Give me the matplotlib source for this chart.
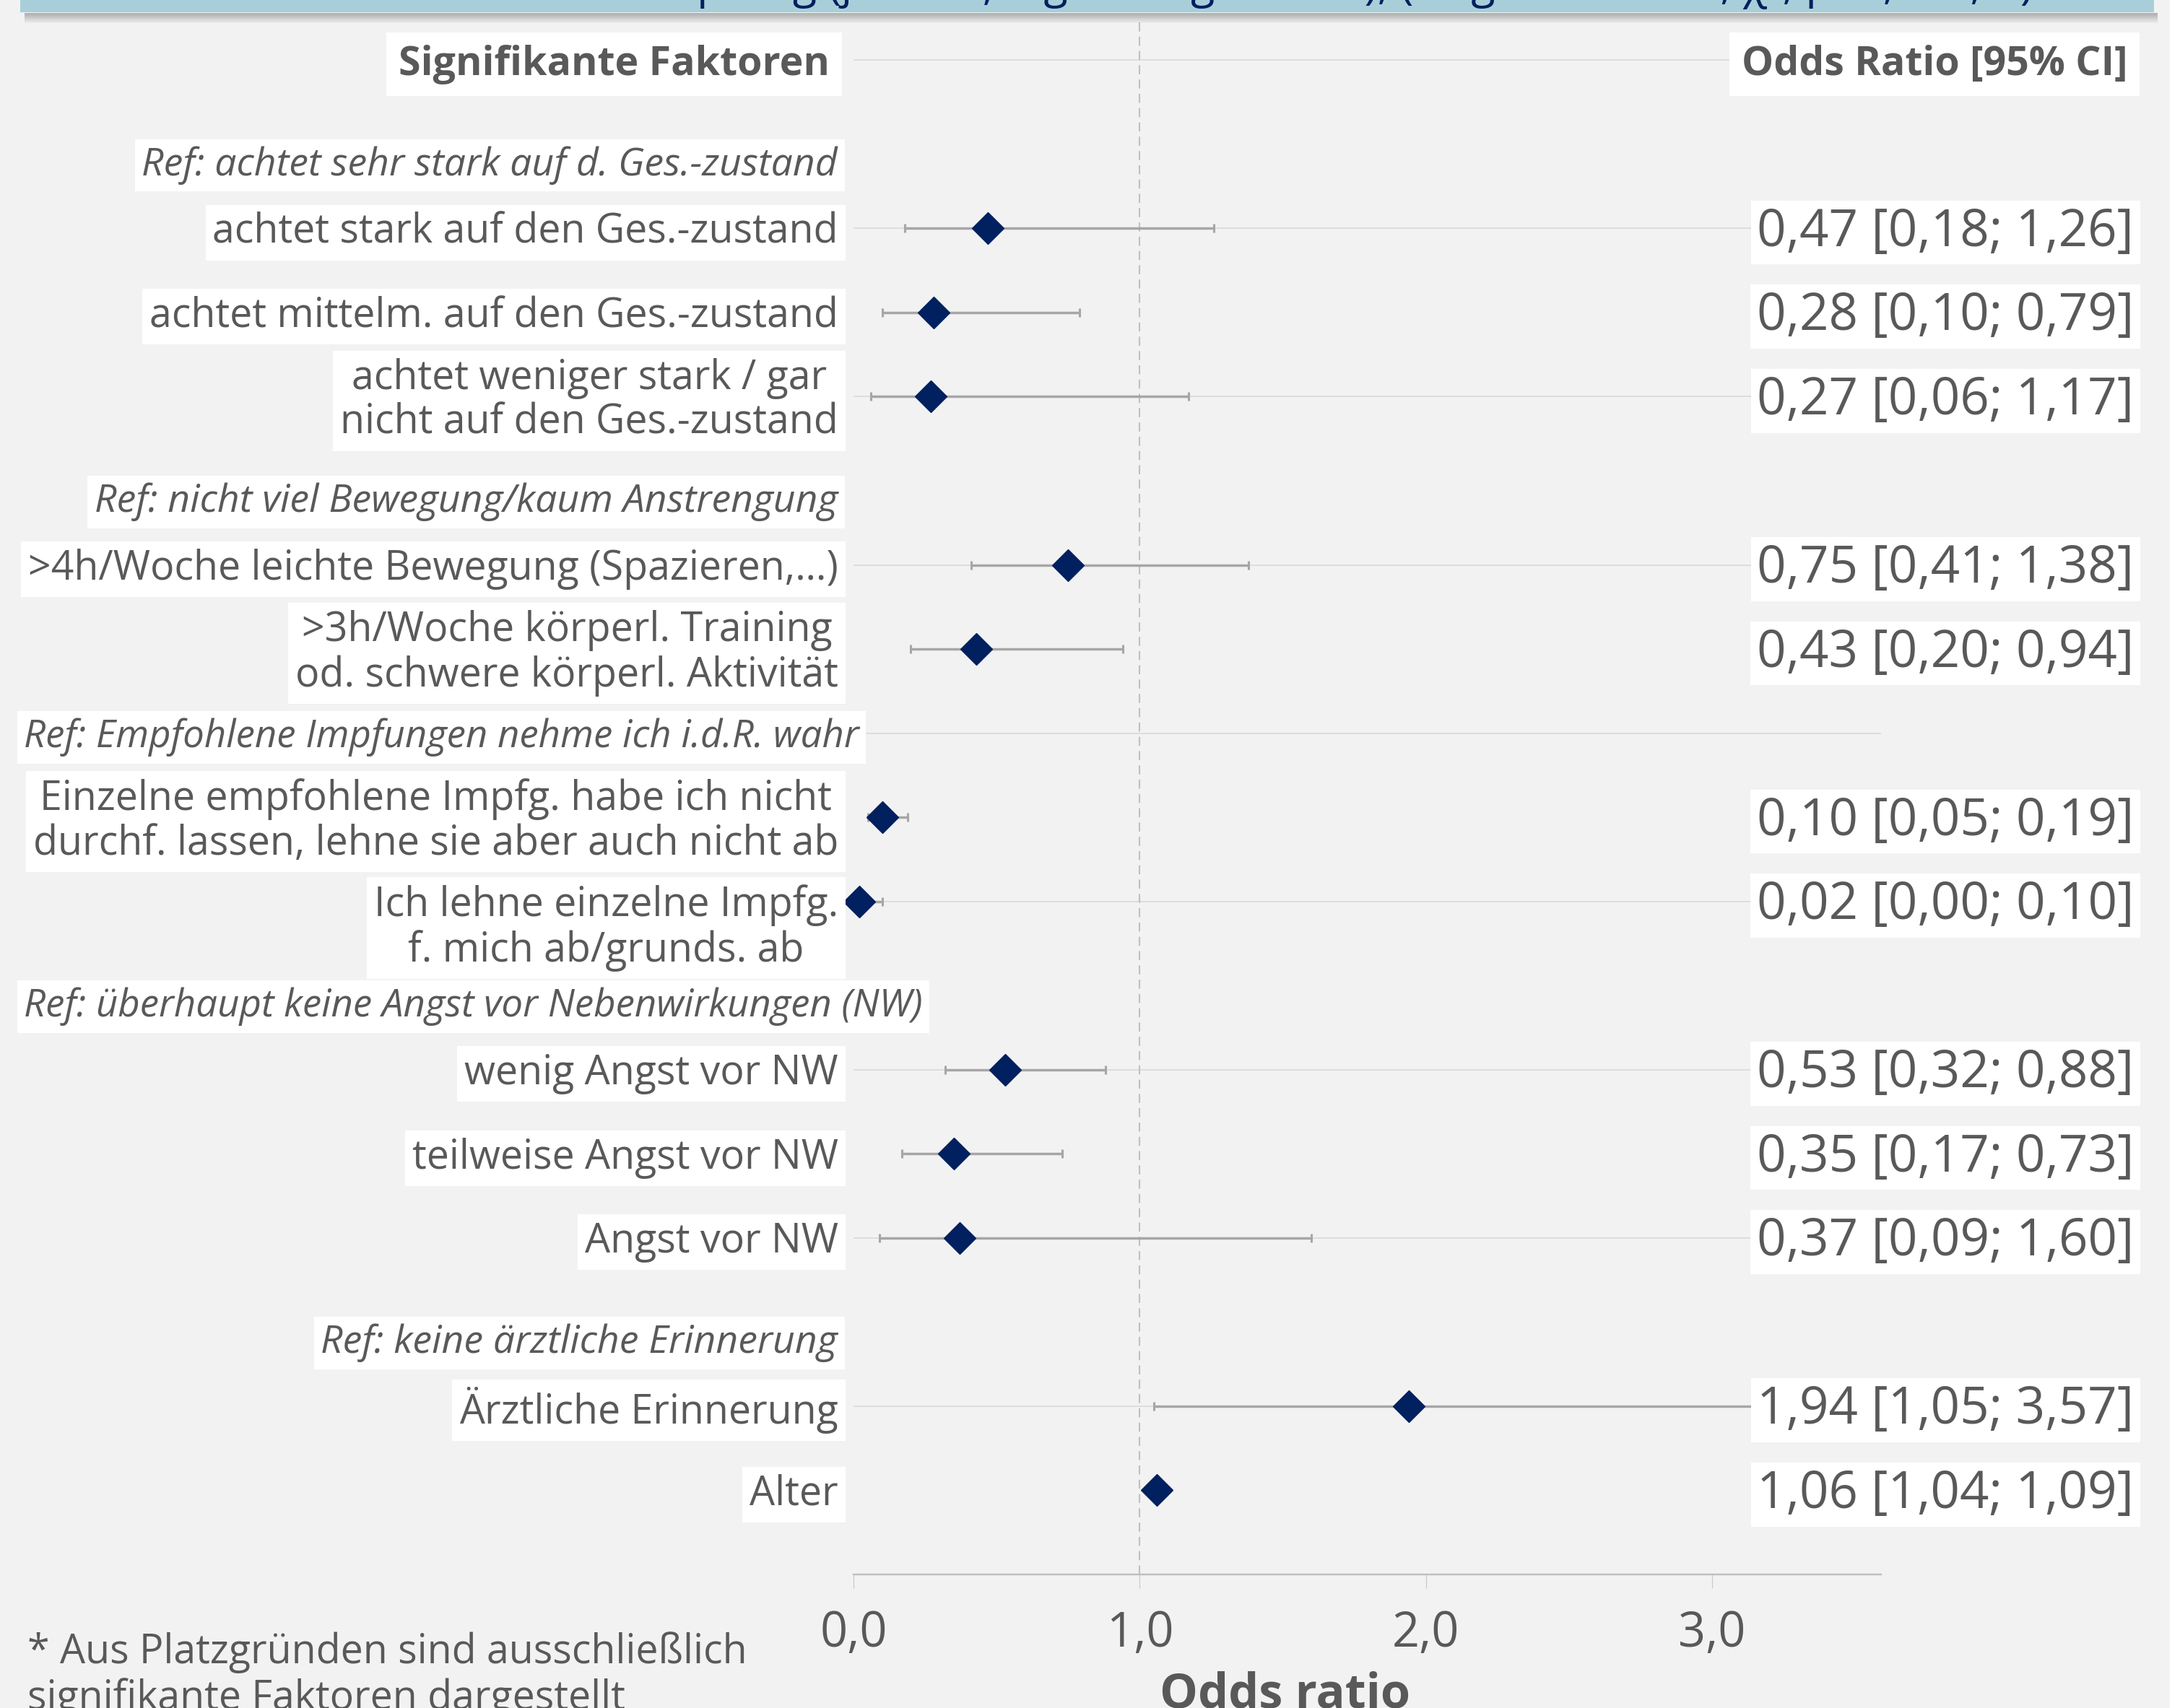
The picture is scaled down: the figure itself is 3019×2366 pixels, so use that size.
import matplotlib
matplotlib.use('Agg')
import matplotlib.pyplot as plt
from matplotlib.patches import Rectangle
from matplotlib import transforms

plt.rcParams['font.family'] = ['Open Sans', 'DejaVu Sans']

# --- data -------------------------------------------------------------
ref_labels = [
    'Ref: achtet sehr stark auf d. Ges.-zustand',
    'Ref: nicht viel Bewegung/kaum Anstrengung',
    'Ref: Empfohlene Impfungen nehme ich i.d.R. wahr',
    'Ref: überhaupt keine Angst vor Nebenwirkungen (NW)',
    'Ref: keine ärztliche Erinnerung',
]
factors = [
    'achtet stark auf den Ges.-zustand',
    'achtet mittelm. auf den Ges.-zustand',
    'achtet weniger stark / gar\nnicht auf den Ges.-zustand',
    '>4h/Woche leichte Bewegung (Spazieren,…)',
    '>3h/Woche körperl. Training\nod. schwere körperl. Aktivität',
    'Einzelne empfohlene Impfg. habe ich nicht\ndurchf. lassen, lehne sie aber auch nicht ab',
    'Ich lehne einzelne Impfg.\nf. mich ab/grunds. ab',
    'wenig Angst vor NW',
    'teilweise Angst vor NW',
    'Angst vor NW',
    'Ärztliche Erinnerung',
    'Alter',
]
factor_group = [0, 0, 0, 1, 1, 2, 2, 3, 3, 3, 4, None]
odds_ratio = [0.47, 0.28, 0.27, 0.75, 0.43, 0.10, 0.02, 0.53, 0.35, 0.37, 1.94, 1.06]
ci_low = [0.18, 0.10, 0.06, 0.41, 0.20, 0.05, 0.00, 0.32, 0.17, 0.09, 1.05, 1.04]
ci_high = [1.26, 0.79, 1.17, 1.38, 0.94, 0.19, 0.10, 0.88, 0.73, 1.60, 3.57, 1.09]
x_ticks = [0, 1, 2, 3]

title = ('Einflussfaktoren auf die Impfung (ja/nein; logist. Regression), '
         '(Nagelkerkes R², χ², p<0,001, n)')

# --- layout -----------------------------------------------------------
W, H = 3019, 2366
def fx(px):
    return px / W
def fy(py):
    return 1 - py / H

grey_txt = '#595959'
navy = '#002060'

fig = plt.figure(figsize=(W / 100, H / 100), dpi=100, facecolor='#f2f2f2')

# white strip at the right edge
fig.patches.append(Rectangle((fx(3005), 0), 1 - fx(3005), 1, transform=fig.transFigure,
                             facecolor='white', edgecolor='none', zorder=0))

# title band with shadow
for i in range(10):
    fig.patches.append(Rectangle((fx(34), fy(18 + (i + 1) * 1.4)), fx(2988) - fx(34), 1.4 / H,
                                 transform=fig.transFigure, facecolor='black',
                                 alpha=0.28 * (1 - i / 10), edgecolor='none', zorder=1))
fig.patches.append(Rectangle((fx(28), fy(17)), fx(2983) - fx(28), 17 / H, transform=fig.transFigure,
                             facecolor='#a8cfd9', edgecolor='none', zorder=2))
fig.text(0.5, fy(0) + 2 / H, title, ha='center', va='baseline', fontsize=44, color=navy, zorder=3)

ax = fig.add_axes([fx(1182), fy(2181), fx(2605) - fx(1182), (2181 - 25) / H])
ax.set_facecolor('none')
ax.set_xlim(0, 3.59)
ax.set_ylim(18, -0.5)

# row positions: header at 0, each reference line takes one slot
ref_shift = [0.2, 0.2, 0.0, 0.2, 0.2]
label_nudge = {6: 0.27}
dy = 0.05  # optical centring of the text
ref_y, fac_y = [], []
slot, last = 1, None
for g in factor_group:
    if g is not None and g != last:
        ref_y.append(slot + ref_shift[g])
        slot += 1
        last = g
    fac_y.append(slot)
    slot += 1

ax.set_yticks(range(0, 17, 2))
ax.yaxis.grid(True, color='#d9d9d9', lw=1.2)
ax.set_axisbelow(True)
ax.tick_params(axis='y', length=0, labelleft=False)
for s in ['left', 'right', 'top']:
    ax.spines[s].set_visible(False)
ax.spines['bottom'].set_color('#bfbfbf')
ax.spines['bottom'].set_linewidth(1.7)
ax.set_xticks(x_ticks)
ax.set_xticklabels([f'{t:.1f}'.replace('.', ',') for t in x_ticks])
ax.tick_params(axis='x', length=14, width=0.8, color='#c8c8c8', pad=21,
               labelsize=48, labelcolor=grey_txt)

ax.axvline(1, color='#c0c0c0', lw=1.5, ls=(0, (6, 3.5)), zorder=1.5)

xerr = [[o - l for o, l in zip(odds_ratio, ci_low)],
        [h - o for o, h in zip(odds_ratio, ci_high)]]
ax.errorbar(odds_ratio, fac_y, xerr=xerr, fmt='none', ecolor='#a6a6a6',
            elinewidth=2.5, capsize=4.3, capthick=2.2, zorder=2)
ax.plot(odds_ratio, fac_y, 'D', ms=22, color=navy, mec=navy, clip_on=False, zorder=4)

trans = transforms.blended_transform_factory(fig.transFigure, ax.transData)
box = dict(boxstyle='square,pad=0.18', fc='white', ec='none')

# header row
ax.text(fx(1149), dy, 'Signifikante Faktoren', transform=trans, ha='right', va='center',
        fontsize=40, fontweight='bold', color=grey_txt, zorder=5,
        bbox=dict(boxstyle='square,pad=0.3', fc='white', ec='none'))
ax.text(fx(2946), dy, 'Odds Ratio [95% CI]', transform=trans, ha='right', va='center',
        fontsize=40, fontweight='bold', color=grey_txt, zorder=5,
        bbox=dict(boxstyle='square,pad=0.3', fc='white', ec='none'))

# reference rows
for lab, y in zip(ref_labels, ref_y):
    if len(lab) > 44:
        ax.text(fx(33), y + dy, lab, transform=trans, ha='left', va='center', fontsize=38,
                style='italic', color=grey_txt, zorder=5, bbox=box, clip_on=False)
    else:
        ax.text(fx(1160), y + dy, lab, transform=trans, ha='right', va='center', fontsize=38.5,
                style='italic', color=grey_txt, zorder=5, bbox=box, clip_on=False)

# factor rows with OR labels
for i, (lab, y, o, l, h) in enumerate(zip(factors, fac_y, odds_ratio, ci_low, ci_high)):
    ax.text(fx(1161), y + dy + label_nudge.get(i, 0), lab, transform=trans, ha='right',
            va='center', ma='center', fontsize=40, color=grey_txt, zorder=5, bbox=box,
            linespacing=1.12, clip_on=False)
    val = f'{o:.2f} [{l:.2f}; {h:.2f}]'.replace('.', ',')
    ax.text(fx(2955), y + dy, val, transform=trans, ha='right', va='center',
            fontsize=51, color=grey_txt, zorder=5, bbox=dict(boxstyle='square,pad=0.12',
                                                              fc='white', ec='none'),
            clip_on=False)

fig.text(fx(1780), fy(2314), 'Odds ratio', ha='center', va='top', fontsize=48,
         fontweight='bold', color=grey_txt)
fig.text(fx(38), fy(2260), '* Aus Platzgründen sind ausschließlich\nsignifikante Faktoren dargestellt',
         ha='left', va='top', fontsize=40, color=grey_txt, linespacing=1.15)

fig.savefig('out.png', dpi=100, facecolor=fig.get_facecolor())
